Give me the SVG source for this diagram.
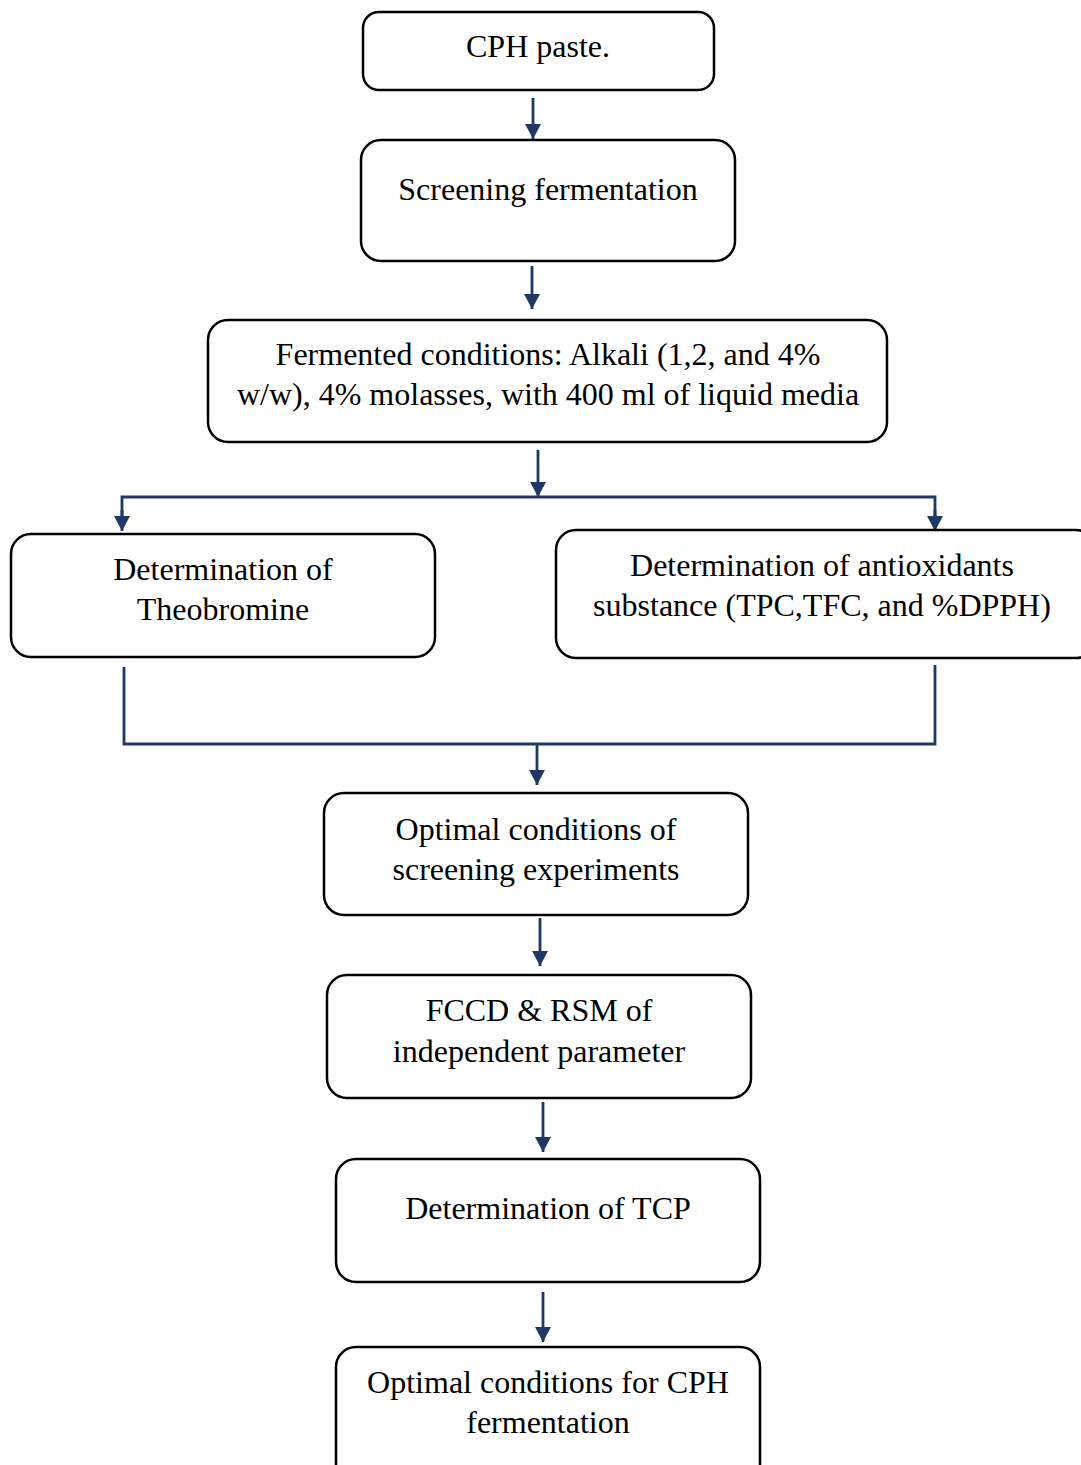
<svg xmlns="http://www.w3.org/2000/svg" width="1081" height="1465" viewBox="0 0 1081 1465">
<style>
.box{fill:#fff;stroke:#000;stroke-width:2.5}
.t{font-family:"Liberation Serif","Times New Roman",serif;font-size:32px;fill:#000;text-anchor:middle}
.c{fill:none;stroke:#1F3864;stroke-width:2.8}
</style>
<defs>
<marker id="ah" markerUnits="userSpaceOnUse" markerWidth="18" markerHeight="18" refX="15" refY="8" orient="auto">
<path d="M0,0 L15,8 L0,16 Z" fill="#1F3864"/>
</marker>
</defs>
<rect width="1081" height="1465" fill="#fff"/>
<g id="connectors">
<line class="c" x1="533" y1="98" x2="533" y2="139" marker-end="url(#ah)"/>
<line class="c" x1="532" y1="266" x2="532" y2="309" marker-end="url(#ah)"/>
<line class="c" x1="538" y1="450" x2="538" y2="497" marker-end="url(#ah)"/>
<polyline class="c" points="122,520 122,497 935,497 935,520"/>
<line class="c" x1="122" y1="510" x2="122" y2="531" marker-end="url(#ah)"/>
<line class="c" x1="935" y1="510" x2="935" y2="531" marker-end="url(#ah)"/>
<polyline class="c" points="124,667 124,744 935,744 935,665"/>
<line class="c" x1="537" y1="744" x2="537" y2="785" marker-end="url(#ah)"/>
<line class="c" x1="540" y1="918" x2="540" y2="966" marker-end="url(#ah)"/>
<line class="c" x1="543" y1="1102" x2="543" y2="1152" marker-end="url(#ah)"/>
<line class="c" x1="543" y1="1292" x2="543" y2="1342" marker-end="url(#ah)"/>
</g>
<g id="n1"><rect class="box" x="363" y="12" width="351" height="78" rx="16"/><text class="t" x="538" y="57">CPH paste.</text></g>
<g id="n2"><rect class="box" x="361" y="140" width="374" height="121" rx="20"/><text class="t" x="548" y="200">Screening fermentation</text></g>
<g id="n3"><rect class="box" x="208" y="320" width="679" height="122" rx="20"/><text class="t" x="548" y="365">Fermented conditions: Alkali (1,2, and 4%</text><text class="t" x="548" y="405">w/w), 4% molasses, with 400 ml of liquid media</text></g>
<g id="n4"><rect class="box" x="11" y="534" width="424" height="123" rx="20"/><text class="t" x="223" y="580">Determination of</text><text class="t" x="223" y="620">Theobromine</text></g>
<g id="n5"><rect class="box" x="556" y="530" width="540" height="128" rx="20"/><text class="t" x="822" y="576">Determination of antioxidants</text><text class="t" x="822" y="616">substance (TPC,TFC, and %DPPH)</text></g>
<g id="n6"><rect class="box" x="324" y="793" width="424" height="122" rx="20"/><text class="t" x="536" y="840">Optimal conditions of</text><text class="t" x="536" y="880">screening experiments</text></g>
<g id="n7"><rect class="box" x="327" y="975" width="424" height="123" rx="20"/><text class="t" x="539" y="1021">FCCD &amp; RSM of</text><text class="t" x="539" y="1062">independent parameter</text></g>
<g id="n8"><rect class="box" x="336" y="1159" width="424" height="123" rx="20"/><text class="t" x="548" y="1219">Determination of TCP</text></g>
<g id="n9"><rect class="box" x="336" y="1347" width="424" height="140" rx="20"/><text class="t" x="548" y="1393">Optimal conditions for CPH</text><text class="t" x="548" y="1433">fermentation</text></g>
</svg>
